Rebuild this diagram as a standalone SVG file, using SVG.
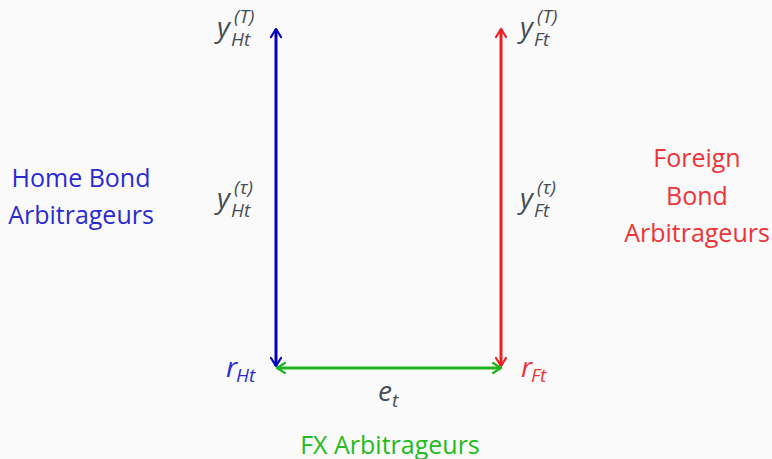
<svg xmlns="http://www.w3.org/2000/svg" width="772" height="459" viewBox="0 0 772 459">
<style>
.lbl{font-family:"Open Sans","Noto Sans",sans-serif;font-size:25px;text-anchor:middle}
.m{font-family:"Open Sans","Noto Sans",sans-serif;font-style:italic;fill:#454d52}
.big{font-size:28px}
.sub{font-size:19px}
</style>
<defs>
<marker id="ab" viewBox="0 0 12 12" refX="10" refY="6" markerWidth="12" markerHeight="12" markerUnits="userSpaceOnUse" orient="auto-start-reverse"><path d="M2,1 L10,6 L2,11" fill="none" stroke="#0000b8" stroke-width="2.2" stroke-linecap="round" stroke-linejoin="round"/></marker>
<marker id="ar" viewBox="0 0 12 12" refX="10" refY="6" markerWidth="12" markerHeight="12" markerUnits="userSpaceOnUse" orient="auto-start-reverse"><path d="M2,1 L10,6 L2,11" fill="none" stroke="#ee1c24" stroke-width="2.2" stroke-linecap="round" stroke-linejoin="round"/></marker>
<marker id="ag" viewBox="0 0 12 12" refX="10" refY="6" markerWidth="12" markerHeight="12" markerUnits="userSpaceOnUse" orient="auto-start-reverse"><path d="M2,1 L10,6 L2,11" fill="none" stroke="#1fb41f" stroke-width="2.2" stroke-linecap="round" stroke-linejoin="round"/></marker>
</defs>
<rect width="772" height="459" fill="#fafafa"/>
<g id="connectors" fill="none" stroke-width="3">
<line x1="276" y1="366" x2="276" y2="29" stroke="#0000b8" marker-start="url(#ab)" marker-end="url(#ab)"/>
<line x1="501" y1="366" x2="501" y2="29" stroke="#ee1c24" marker-start="url(#ar)" marker-end="url(#ar)"/>
<line x1="277" y1="368" x2="501" y2="368" stroke="#1fb41f" marker-start="url(#ag)" marker-end="url(#ag)"/>
</g>
<g id="home">
<text class="lbl" x="81" y="187" fill="#2a2ad0">Home Bond</text>
<text class="lbl" x="81" y="224" fill="#2a2ad0">Arbitrageurs</text>
</g>
<g id="foreign">
<text class="lbl" x="697" y="167" fill="#ee3338">Foreign</text>
<text class="lbl" x="697" y="205" fill="#ee3338">Bond</text>
<text class="lbl" x="697" y="242" fill="#ee3338">Arbitrageurs</text>
</g>
<g id="fx">
<text class="lbl" x="390" y="454" fill="#22bb22">FX Arbitrageurs</text>
</g>
<g id="yHT">
<text class="m big" x="217" y="37">y</text>
<text class="m sub" x="234" y="23">(T)</text>
<text class="m sub" x="231" y="46">Ht</text>
</g>
<g id="yFT">
<text class="m big" x="520" y="37">y</text>
<text class="m sub" x="537" y="23">(T)</text>
<text class="m sub" x="534" y="46">Ft</text>
</g>
<g id="yHtau">
<text class="m big" x="217" y="208">y</text>
<text class="m sub" x="234" y="194">(τ)</text>
<text class="m sub" x="231" y="217">Ht</text>
</g>
<g id="yFtau">
<text class="m big" x="520" y="208">y</text>
<text class="m sub" x="537" y="194">(τ)</text>
<text class="m sub" x="534" y="217">Ft</text>
</g>
<g id="rH">
<text class="m big" x="226" y="377" style="fill:#2a2ad0">r</text>
<text class="m sub" x="236" y="382" style="fill:#2a2ad0">Ht</text>
</g>
<g id="rF">
<text class="m big" x="521" y="377" style="fill:#ee3338">r</text>
<text class="m sub" x="531" y="382" style="fill:#ee3338">Ft</text>
</g>
<g id="e">
<text class="m big" x="378" y="401">e</text>
<text class="m sub" x="392" y="407">t</text>
</g>
</svg>
